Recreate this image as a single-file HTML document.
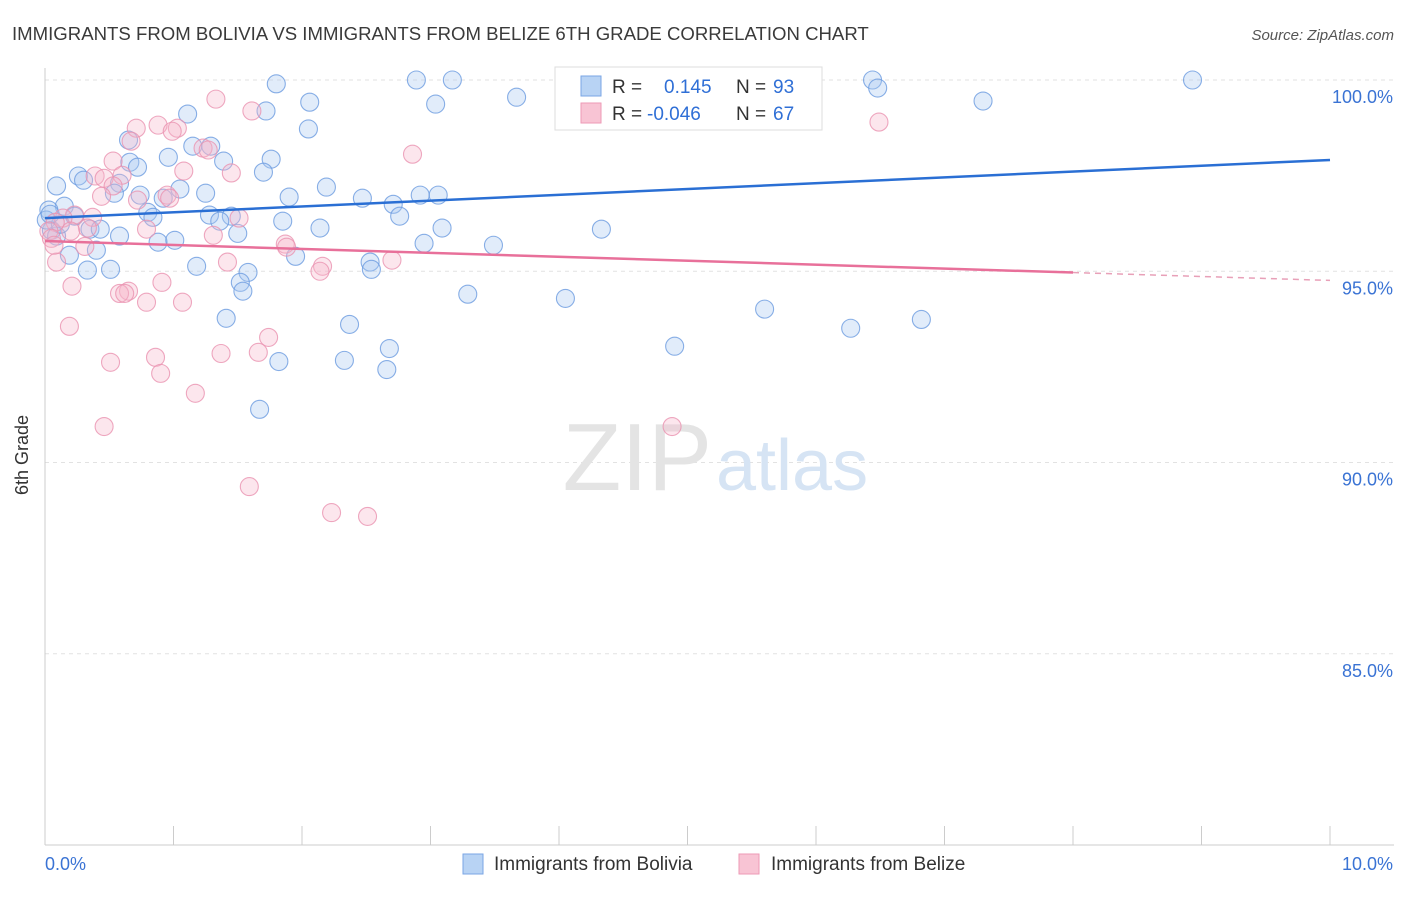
<!DOCTYPE html>
<html><head><meta charset="utf-8"><style>
body{margin:0;background:#fff;font-family:"Liberation Sans",sans-serif;}
svg text{font-family:"Liberation Sans",sans-serif;}
</style></head><body>
<svg width="1406" height="892" viewBox="0 0 1406 892" xmlns="http://www.w3.org/2000/svg">
<text x="12" y="40" font-size="18.6" fill="#3a3a3a">IMMIGRANTS FROM BOLIVIA VS IMMIGRANTS FROM BELIZE 6TH GRADE CORRELATION CHART</text>
<text x="1394" y="40" font-size="15" fill="#555" font-style="italic" text-anchor="end">Source: ZipAtlas.com</text>
<g id="grid"></g>
<text x="712" y="490" font-size="96" fill="#e4e4e4" text-anchor="end" font-family="Liberation Serif">ZIP</text>
<text x="716" y="490" font-size="72" fill="#d6e4f4">atlas</text>
<g id="axes"></g>
<g id="marks"></g>
<text x="28" y="455" font-size="18" fill="#333" text-anchor="middle" transform="rotate(-90 28 455)">6th Grade</text>
<g>
<rect x="555" y="67" width="267" height="63" fill="#fff" stroke="#ddd"/>
<rect x="581" y="76" width="20" height="20" fill="#b8d3f4" stroke="#7aa6e4"/>
<rect x="581" y="103" width="20" height="20" fill="#f8c4d4" stroke="#ee9ab6"/>
<text x="612" y="93" font-size="19" fill="#333">R = </text><text x="664" y="93" font-size="19" fill="#2f6fd6">0.145</text>
<text x="736" y="93" font-size="19" fill="#333">N = </text><text x="773" y="93" font-size="19" fill="#2f6fd6">93</text>
<text x="612" y="120" font-size="19" fill="#333">R = </text><text x="647" y="120" font-size="19" fill="#2f6fd6">-0.046</text>
<text x="736" y="120" font-size="19" fill="#333">N = </text><text x="773" y="120" font-size="19" fill="#2f6fd6">67</text>
</g>
<g>
<rect x="463" y="854" width="20" height="20" fill="#b8d3f4" stroke="#7aa6e4"/>
<text x="494" y="870" font-size="19" fill="#333">Immigrants from Bolivia</text>
<rect x="739" y="854" width="20" height="20" fill="#f8c4d4" stroke="#ee9ab6"/>
<text x="771" y="870" font-size="19" fill="#333">Immigrants from Belize</text>
</g>
</svg>
<script>
const yTicks=[100,95,90,85];
const yTickLabels=["100.0%","95.0%","90.0%","85.0%"];
const xTickLabels=["0.0%","10.0%"];
const blueX=[1.80,2.89,3.17,4.10,4.97,5.56,6.44,6.48,8.93,3.67,3.04,2.06,7.30,1.11,1.72,2.05,0.65,1.15,1.29,0.96,1.39,1.76,0.66,0.72,1.70,0.26,0.30,0.09,0.58,0.54,1.05,1.25,0.74,0.92,2.19,1.90,2.47,2.92,3.06,2.71,0.15,0.03,0.23,0.80,0.84,1.28,1.45,1.36,1.85,2.76,0.35,0.43,0.58,0.88,1.01,1.50,2.14,3.09,4.33,2.95,3.49,0.40,0.19,1.95,2.53,2.54,1.18,0.51,0.33,1.58,1.52,1.54,3.29,4.05,5.60,6.82,6.27,1.41,2.37,2.68,4.90,2.33,1.82,2.66,1.67,0.05,0.09,0.01,0.12,0.04];
const blueY=[99.90,100,100,100,100,100,100,99.79,100,99.55,99.37,99.42,99.45,99.11,99.19,98.72,98.43,98.27,98.27,97.98,97.88,97.93,97.85,97.72,97.59,97.49,97.38,97.23,97.30,97.04,97.15,97.04,96.99,96.91,97.20,96.94,96.91,96.99,96.99,96.75,96.70,96.60,96.44,96.54,96.41,96.47,96.44,96.31,96.31,96.44,96.10,96.10,95.92,95.76,95.81,95.99,96.13,96.13,96.10,95.73,95.68,95.55,95.42,95.39,95.24,95.05,95.13,95.05,95.03,94.97,94.71,94.48,94.40,94.29,94.01,93.74,93.51,93.77,93.61,92.98,93.04,92.67,92.64,92.43,91.39,96.07,95.92,96.34,96.23,96.49];
const pinkX=[1.33,1.61,0.88,0.71,1.03,0.99,0.67,1.23,1.27,2.86,0.53,1.08,1.45,0.39,0.46,0.60,0.53,0.95,0.44,0.72,0.97,0.23,0.37,0.14,0.08,0.33,0.20,0.03,0.79,1.51,1.31,0.05,0.31,1.87,1.88,0.09,1.42,2.16,2.14,2.70,0.21,0.91,0.65,0.58,0.62,0.79,1.07,0.19,1.74,0.86,0.51,1.37,1.66,0.90,1.17,0.46,4.88,1.59,2.23,2.51,6.49,0.07];
const pinkY=[99.50,99.19,98.82,98.74,98.74,98.66,98.40,98.22,98.17,98.06,97.88,97.62,97.57,97.49,97.43,97.51,97.23,96.99,96.96,96.86,96.91,96.47,96.41,96.39,96.28,96.13,96.05,96.05,96.10,96.39,95.94,95.86,95.65,95.71,95.63,95.24,95.24,95.13,95.00,95.29,94.61,94.71,94.48,94.42,94.42,94.19,94.19,93.56,93.27,92.75,92.62,92.85,92.88,92.33,91.81,90.94,90.94,89.37,88.69,88.59,98.90,95.68];
const blueTrend=[96.39,97.91];
const pinkTrend=[95.79,94.76];
const pinkSolidEnd=8.0;
const NS='http://www.w3.org/2000/svg';
const X0=45,X1=1330,YT=80,YB=845,Ymin=80,Ymax=100;
function sx(v){return X0+v/10*(X1-X0);}
function sy(v){return YB-(v-Ymin)/(Ymax-Ymin)*(YB-YT);}
function mk(tag,attrs,parent){const e=document.createElementNS(NS,tag);for(const k in attrs)e.setAttribute(k,attrs[k]);parent.appendChild(e);return e;}
const grid=document.getElementById('grid'),axes=document.getElementById('axes'),marks=document.getElementById('marks');
yTicks.forEach((t,i)=>{
 const l=mk('line',{x1:X0,x2:1394,y1:sy(t),y2:sy(t),stroke:'#e2e2e2','stroke-dasharray':'4,4'},grid);
 
 
 const tx=mk('text',{x:1393,y:sy(t)+23,'font-size':18,fill:'#3a73d4','text-anchor':'end'},axes);
 tx.textContent=yTickLabels[i];
 
 
});
const ya=mk('line',{x1:X0,x2:X0,y1:68,y2:YB,stroke:'#ccc'},axes);


const xa=mk('line',{x1:X0,x2:1394,y1:YB,y2:YB,stroke:'#ccc'},axes);


for(let i=1;i<=10;i++){const tk=mk('line',{x1:sx(i),x2:sx(i),y1:826,y2:YB,stroke:'#ccc'},axes);
 
 }
const xl0=mk('text',{x:45,y:870,'font-size':18,fill:'#3a73d4'},axes);xl0.textContent=xTickLabels[0];


const xl1=mk('text',{x:1393,y:870,'font-size':18,fill:'#3a73d4','text-anchor':'end'},axes);xl1.textContent=xTickLabels[1];


function pts(xs,ys,fill,stroke,name){xs.forEach((x,i)=>{const c=mk('circle',{cx:sx(x),cy:sy(ys[i]),r:9,fill:fill,'fill-opacity':0.35,stroke:stroke,'stroke-opacity':0.8,'stroke-width':1.1},marks);
 
 });}
pts(blueX,blueY,'#a9c8f0','#6b9be0','point-bolivia');
pts(pinkX,pinkY,'#f6b6ca','#ea92b0','point-belize');
const bl=mk('line',{x1:sx(0),y1:sy(blueTrend[0]),x2:sx(10),y2:sy(blueTrend[1]),stroke:'#2a6fd4','stroke-width':2.5},marks);


const pm=pinkTrend[0]+(pinkTrend[1]-pinkTrend[0])*pinkSolidEnd/10;
const pl=mk('line',{x1:sx(0),y1:sy(pinkTrend[0]),x2:sx(pinkSolidEnd),y2:sy(pm),stroke:'#e8709a','stroke-width':2.5},marks);


const pd=mk('line',{x1:sx(pinkSolidEnd),y1:sy(pm),x2:sx(10),y2:sy(pinkTrend[1]),stroke:'#e8a0b8','stroke-width':1.5,'stroke-dasharray':'6,5'},marks);


</script>
</body></html>
